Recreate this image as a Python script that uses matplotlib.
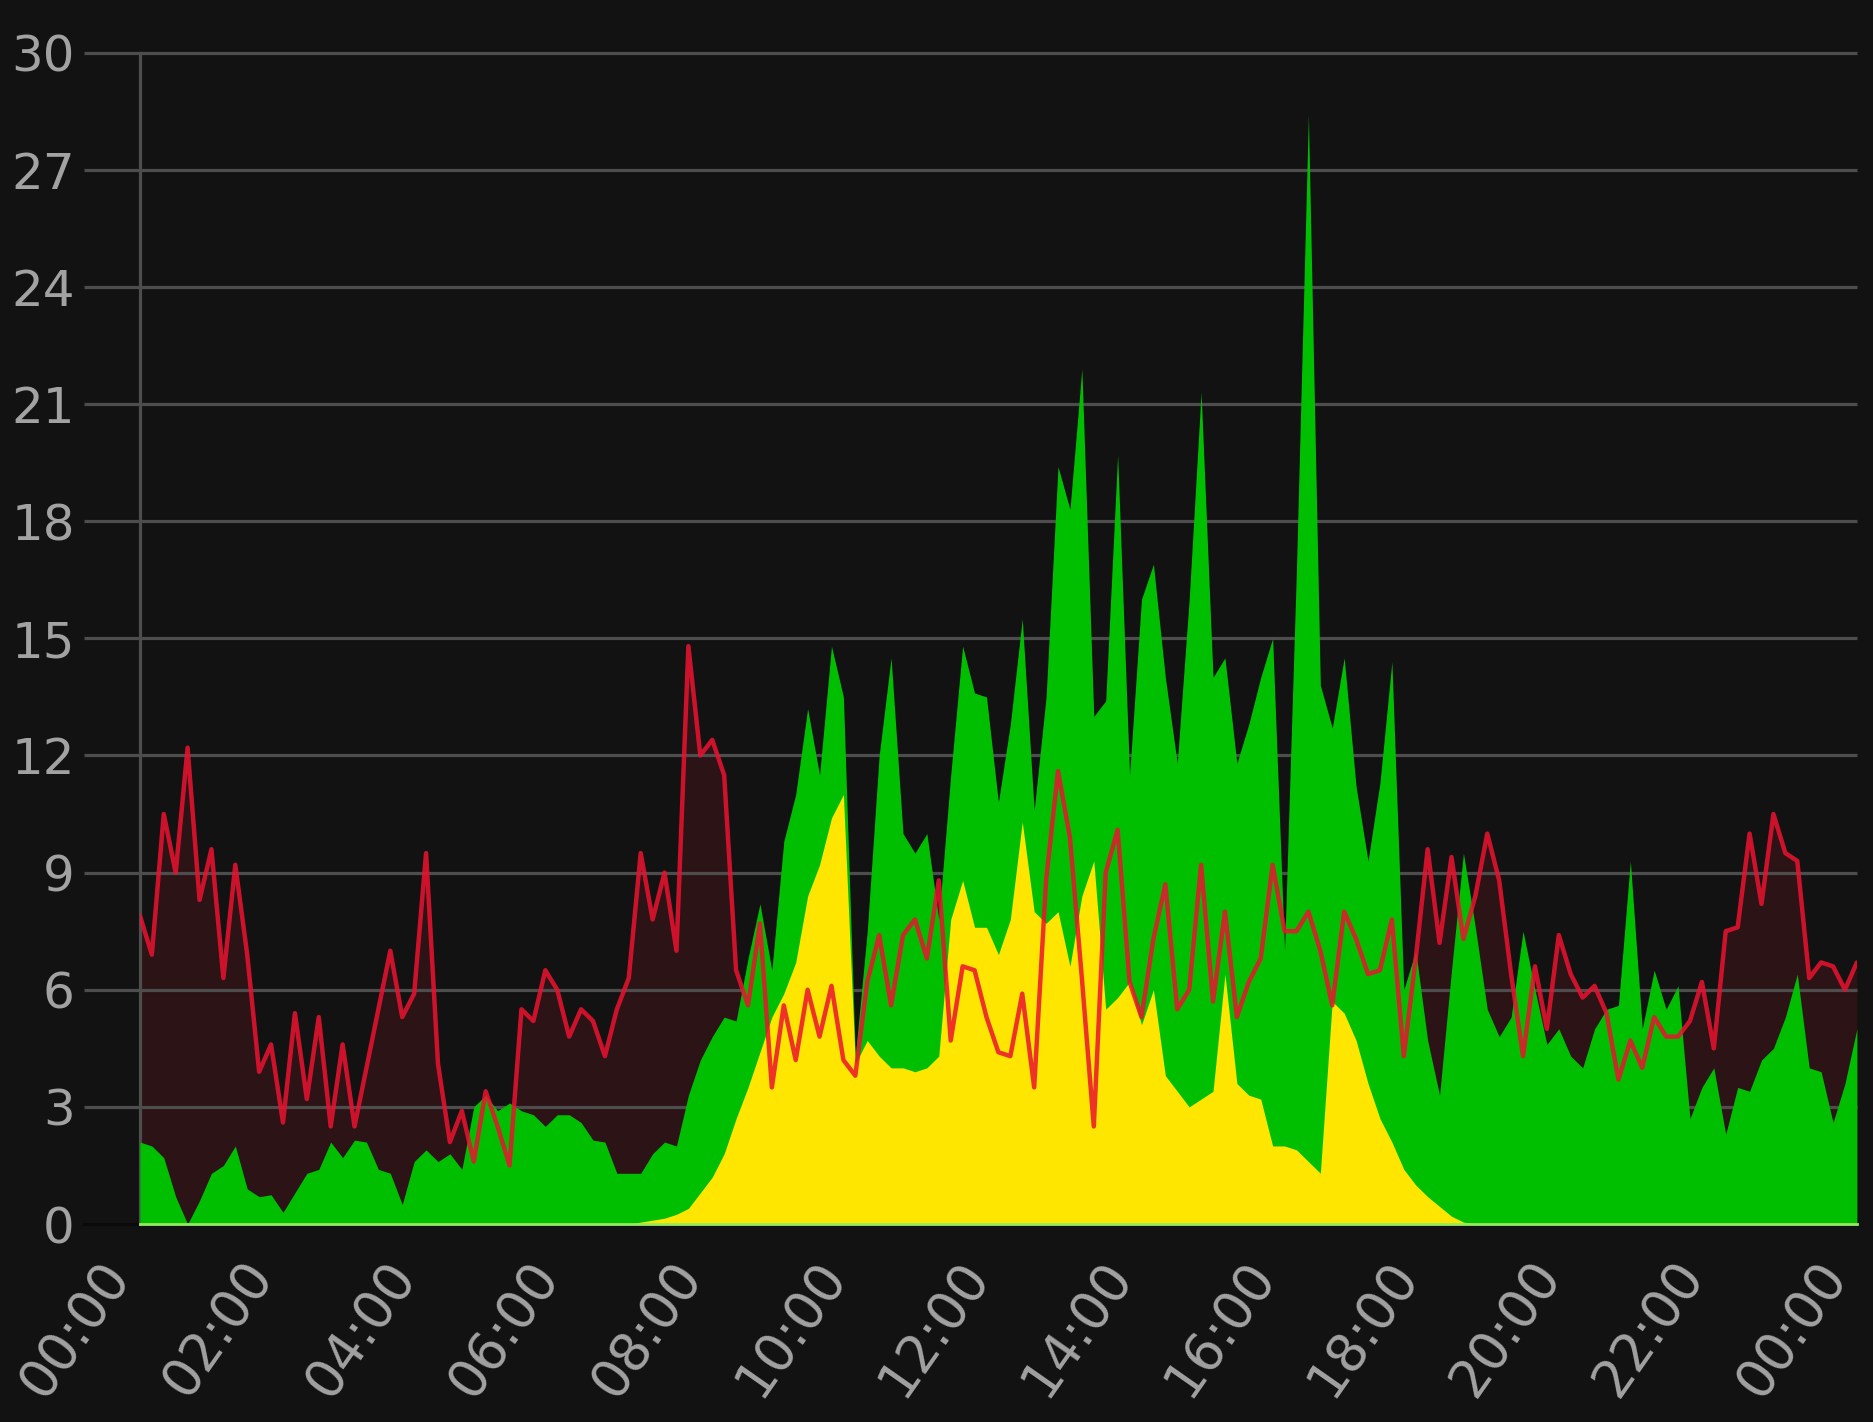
import numpy as np
import matplotlib
matplotlib.use("Agg")
import matplotlib.pyplot as plt

# ---- data: one sample every 10 minutes, 00:00 .. 24:00 ----
minutes = np.arange(0, 24 * 60 + 1, 10)

red = [7.9, 6.9, 10.5, 9.0, 12.2, 8.3, 9.6, 6.3, 9.2, 6.9,
       3.9, 4.6, 2.6, 5.4, 3.2, 5.3, 2.5, 4.6, 2.5, 4.0,
       5.5, 7.0, 5.3, 5.9, 9.5, 4.1, 2.1, 2.9, 1.6, 3.4,
       2.5, 1.5, 5.5, 5.2, 6.5, 6.0, 4.8, 5.5, 5.2, 4.3,
       5.5, 6.3, 9.5, 7.8, 9.0, 7.0, 14.8, 12.0, 12.4, 11.5,
       6.5, 5.6, 7.7, 3.5, 5.6, 4.2, 6.0, 4.8, 6.1, 4.2,
       3.8, 6.2, 7.4, 5.6, 7.4, 7.8, 6.8, 8.8, 4.7, 6.6,
       6.5, 5.3, 4.4, 4.3, 5.9, 3.5, 8.8, 11.6, 9.9, 6.3,
       2.5, 9.0, 10.1, 6.2, 5.3, 7.3, 8.7, 5.5, 6.0, 9.2,
       5.7, 8.0, 5.3, 6.2, 6.8, 9.2, 7.5, 7.5, 8.0, 7.0,
       5.6, 8.0, 7.3, 6.4, 6.5, 7.8, 4.3, 6.8, 9.6, 7.2,
       9.4, 7.3, 8.4, 10.0, 8.8, 6.4, 4.3, 6.6, 5.0, 7.4,
       6.4, 5.8, 6.1, 5.4, 3.7, 4.7, 4.0, 5.3, 4.8, 4.8,
       5.2, 6.2, 4.5, 7.5, 7.6, 10.0, 8.2, 10.5, 9.5, 9.3,
       6.3, 6.7, 6.6, 6.0, 6.7]

green = [2.1, 2.0, 1.7, 0.7, 0.0, 0.6, 1.3, 1.5, 2.0, 0.9,
         0.7, 0.75, 0.3, 0.8, 1.3, 1.4, 2.1, 1.7, 2.15, 2.1,
         1.4, 1.3, 0.5, 1.6, 1.9, 1.6, 1.8, 1.4, 3.0, 3.3,
         2.9, 3.1, 2.9, 2.8, 2.5, 2.8, 2.8, 2.6, 2.15, 2.1,
         1.3, 1.3, 1.3, 1.8, 2.1, 2.0, 3.3, 4.2, 4.8, 5.3,
         5.2, 6.8, 8.2, 6.5, 9.8, 11.0, 13.2, 11.5, 14.8, 13.5,
         4.3, 7.5, 12.0, 14.5, 10.0, 9.5, 10.0, 7.8, 11.5, 14.8,
         13.6, 13.5, 10.8, 12.8, 15.5, 10.6, 13.5, 19.4, 18.3, 21.9,
         13.0, 13.4, 19.7, 11.5, 16.0, 16.9, 14.0, 11.8, 16.0, 21.3,
         14.0, 14.5, 11.8, 12.8, 14.0, 15.0, 7.0, 16.8, 28.4, 13.8,
         12.7, 14.5, 11.2, 9.3, 11.3, 14.4, 6.0, 7.0, 4.7, 3.3,
         6.5, 9.5, 7.6, 5.5, 4.8, 5.3, 7.5, 6.0, 4.6, 5.0,
         4.3, 4.0, 5.0, 5.5, 5.6, 9.3, 5.0, 6.5, 5.5, 6.1,
         2.7, 3.5, 4.0, 2.3, 3.5, 3.4, 4.2, 4.5, 5.3, 6.4,
         4.0, 3.9, 2.6, 3.6, 5.0]

yellow = [0.0] * 42 + [
          0.05, 0.1, 0.15, 0.25, 0.4, 0.8, 1.2, 1.8,
          2.7, 3.5, 4.4, 5.3, 5.9, 6.7, 8.4, 9.2, 10.4, 11.0,
          4.1, 4.7, 4.3, 4.0, 4.0, 3.9, 4.0, 4.3, 7.8, 8.8,
          7.6, 7.6, 6.9, 7.8, 10.3, 8.0, 7.7, 8.0, 6.6, 8.4,
          9.3, 5.5, 5.8, 6.2, 5.1, 6.0, 3.8, 3.4, 3.0, 3.2,
          3.4, 6.4, 3.6, 3.3, 3.2, 2.0, 2.0, 1.9, 1.6, 1.3,
          5.7, 5.4, 4.7, 3.6, 2.7, 2.1, 1.4, 1.0, 0.7, 0.45,
          0.2, 0.05] + [0.0] * 33

y_ticks = list(range(0, 31, 3))
x_ticks = list(range(0, 25, 2))
x_labels = [f"{h % 24:02d}:00" for h in x_ticks]

# ---- render ----
BG, GRID, TXT = "#121212", "#4d4d4d", "#a2a2a2"
RED, RED_FILL, GREEN, YELLOW, BASE = "#ec1230", "#2c1316", "#00bf00", "#ffe600", "#94ea5e"

hours = minutes / 60
fig = plt.figure(figsize=(18.73, 14.22), dpi=100)
fig.patch.set_facecolor(BG)
ax = fig.add_axes([0.0747, 0.1392, 0.9167, 0.8238])
ax.set_facecolor(BG)
ax.set_xlim(0, 24); ax.set_ylim(0, 30)

ax.fill_between(hours, red, 0, color=RED_FILL, lw=0, zorder=1)
for yv in y_ticks[1:]:                       # grid reaches left past the axis line
    ax.plot([-0.78, 24], [yv, yv], color=GRID, lw=2.3, zorder=2, clip_on=False, solid_capstyle="butt")
ax.plot([-0.78, 0], [0, 0], color="#0a0a0a", lw=2.3, zorder=2, clip_on=False)
ax.plot([0, 0], [0, 30], color=GRID, lw=2.3, zorder=2, clip_on=False)
ax.fill_between(hours, green, 0, color=GREEN, lw=0, zorder=3)
ax.fill_between(hours, yellow, 0, color=YELLOW, lw=0, zorder=4)
ax.plot(hours, red, color=RED, lw=3.2, alpha=0.85, zorder=5,
        solid_joinstyle="round", solid_capstyle="round")
ax.plot([0, 24], [0, 0], color=BASE, lw=2.0, zorder=6, clip_on=False)

for sp in ax.spines.values(): sp.set_visible(False)
ax.set_yticks(y_ticks)
ax.set_yticklabels([str(v) for v in y_ticks], fontsize=36, color=TXT)
ax.set_xticks(x_ticks)
ax.set_xticklabels(x_labels, fontsize=38, color=TXT, rotation=55, ha="right", va="top")
ax.tick_params(axis="y", length=0, pad=47)
ax.tick_params(axis="x", length=0, pad=20)

fig.savefig("out.png", facecolor=BG)
